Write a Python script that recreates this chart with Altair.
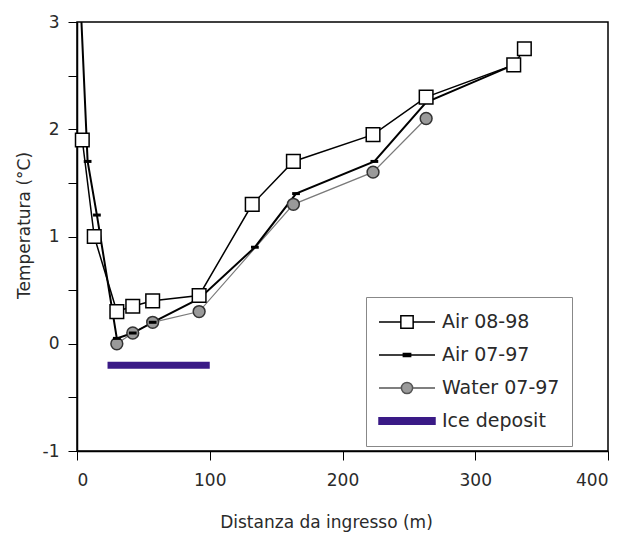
import altair as alt
import pandas as pd

# ---- data ----
air98_x = [4, 13, 30, 42, 57, 92, 132, 163, 223, 263, 329, 337]
air98_y = [1.9, 1.0, 0.3, 0.35, 0.4, 0.45, 1.3, 1.7, 1.95, 2.3, 2.6, 2.75]

air97_x = [3, 8, 15, 30, 42, 57, 92, 134, 165, 224, 263, 329]
air97_y = [3.1, 1.7, 1.2, 0.05, 0.1, 0.2, 0.42, 0.9, 1.4, 1.7, 2.25, 2.6]

water_x = [30, 42, 57, 92, 163, 223, 263]
water_y = [0.0, 0.1, 0.2, 0.3, 1.3, 1.6, 2.1]

ice_x_start = [23]
ice_x_end = [100]
ice_y = [-0.2]

series_names = ["Air 08-98", "Air 07-97", "Water 07-97", "Ice deposit"]
x_ticks = [0, 100, 200, 300, 400]
y_ticks = [-1, -0.5, 0, 0.5, 1, 1.5, 2, 2.5, 3]

FONT = "DejaVu Sans"
TXT = "#2a2a2a"

air98 = pd.DataFrame({"x": air98_x, "y": air98_y})
air97 = pd.DataFrame({"x": air97_x, "y": air97_y})
water = pd.DataFrame({"x": water_x, "y": water_y})
ice = pd.DataFrame({"x": ice_x_start, "x2": ice_x_end, "y": ice_y})
legend_df = pd.DataFrame({"series": series_names})

xscale = alt.Scale(domain=[0, 400], nice=False, zero=False)
yscale = alt.Scale(domain=[-1, 3], nice=False, zero=False)

xaxis = alt.Axis(
    values=x_ticks, title="Distanza da ingresso (m)", grid=False,
    tickSize=9, tickColor="black", domainColor="black", domainWidth=1.5,
    labelFontSize=17, labelFont=FONT, labelColor=TXT, labelPadding=12,
    titleFontSize=17, titleFont=FONT, titleColor=TXT, titleFontWeight="normal",
    titleX=249, titleY=71, titleBaseline="middle", titleAlign="center",
)
yaxis = alt.Axis(
    values=y_ticks, title="Temperatura (°C)", grid=False,
    labelExpr="datum.value % 1 == 0 ? '' + datum.value : ''",
    tickSize=9, tickColor="black", domainColor="black", domainWidth=1.5,
    labelFontSize=17, labelFont=FONT, labelColor=TXT, labelPadding=9,
    titleFontSize=17, titleFont=FONT, titleColor=TXT, titleFontWeight="normal",
    titleX=-53, titleY=203, titleBaseline="middle", titleAlign="center", titleAngle=-90,
)

X = lambda: alt.X("x:Q", scale=xscale, axis=xaxis)
Y = lambda: alt.Y("y:Q", scale=yscale, axis=yaxis)

ice_layer = alt.Chart(ice).mark_rule(strokeWidth=7, color="#3a1a86").encode(
    x=X(), x2="x2:Q", y=Y()
)

water_line = alt.Chart(water).mark_line(color="#7a7a7a", strokeWidth=1.2).encode(x=X(), y=Y())
water_pts = alt.Chart(water).mark_point(
    shape="circle", size=140, filled=True, fill="#9a9a9a", stroke="#333333",
    strokeWidth=1.5, opacity=1
).encode(x=X(), y=Y())

air97_line = alt.Chart(air97).mark_line(color="black", strokeWidth=2, clip=True).encode(x=X(), y=Y())
air97_pts = alt.Chart(air97).mark_point(
    shape="stroke", size=60, stroke="black", strokeWidth=3, opacity=1, clip=True
).encode(x=X(), y=Y())

air98_line = alt.Chart(air98).mark_line(color="black", strokeWidth=1.5).encode(x=X(), y=Y())
air98_pts = alt.Chart(air98).mark_point(
    shape="square", size=185, filled=True, fill="white", stroke="black",
    strokeWidth=1.5, opacity=1
).encode(x=X(), y=Y())

# legend-only layer (no rows drawn; the legend comes from the scales)
p_air98 = "M-1,0H-0.22M0.22,0H1M-0.22,-0.22H0.22V0.22H-0.22Z"
p_air97 = "M-1,0H1M-0.13,-0.05H0.13V0.05H-0.13Z"
p_water = "M-1,0H-0.2M0.2,0H1M0.2,0A0.2,0.2 0 1,1 -0.2,0A0.2,0.2 0 1,1 0.2,0Z"
p_ice = "M-1,-0.12H1V0.12H-1Z"

legend_layer = alt.Chart(legend_df).mark_point(filled=True, opacity=1).encode(
    shape=alt.Shape("series:N", scale=alt.Scale(domain=series_names,
                                                  range=[p_air98, p_air97, p_water, p_ice]),
                    legend=alt.Legend(title=None, orient="none", legendX=289, legendY=275,
                                      symbolSize=3136, symbolStrokeWidth=1.5, symbolOpacity=1,
                                      clipHeight=26, rowPadding=7, labelOffset=6, padding=12,
                                      labelFontSize=19, labelFont=FONT, labelColor=TXT,
                                      strokeColor="#888888", fillColor="white")),
    fill=alt.Fill("series:N", scale=alt.Scale(domain=series_names,
                                                range=["white", "black", "#9a9a9a", "#3a1a86"]),
                  legend=alt.Legend(title=None, orient="none")),
    stroke=alt.Stroke("series:N", scale=alt.Scale(domain=series_names,
                                                    range=["black", "black", "#555555", "#3a1a86"]),
                      legend=alt.Legend(title=None, orient="none")),
).transform_filter("datum.series == 'none'")

chart = alt.layer(
    ice_layer, water_line, air97_line, water_pts, air97_pts, air98_line, air98_pts, legend_layer
).properties(
    width=531, height=429,
    autosize=alt.AutoSizeParams(type="none"),
    padding={"left": 77, "top": 22, "right": 19, "bottom": 84},
    background="white",
).configure_view(stroke="black", strokeWidth=1.5)

chart.save("out.html", embed_options={"renderer": "svg", "actions": False})
